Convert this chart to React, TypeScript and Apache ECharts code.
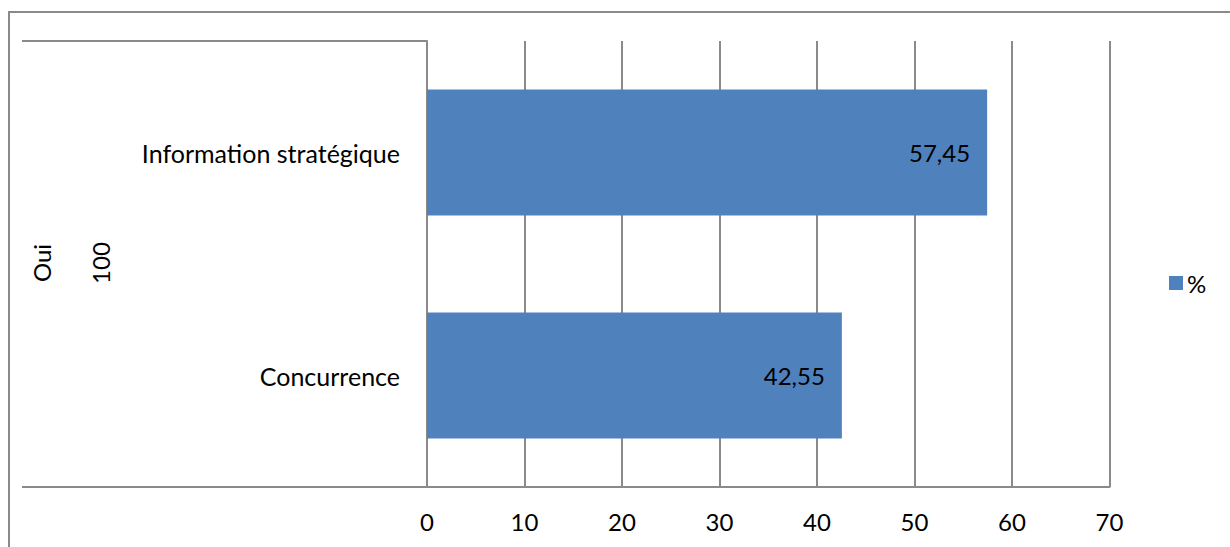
import React, { useEffect, useRef } from "react";
import * as echarts from "echarts";

const categories = ["Concurrence", "Information stratégique"];
const values = [42.55, 57.45];
const valueLabels = ["42,55", "57,45"];
const seriesName = "%";
const outerGroupLabels = ["Oui"];
const midGroupLabels = ["100"];
const xMin = 0;
const xMax = 70;
const xInterval = 10;

const FONT = "Lato";
const GRAY = "#8a8a8a";
const FS = 24;

export default function App() {
  const ref = useRef<HTMLDivElement>(null);
  useEffect(() => {
    if (!ref.current) return;
    const chart = echarts.init(ref.current, null, { renderer: "svg" });
    const gridTop = 41;
    const gridBottomY = 487;
    const midY = (gridTop + gridBottomY) / 2;
    chart.setOption({
      animation: false,
      textStyle: { fontFamily: FONT },
      grid: { left: 427, right: 120.5, top: gridTop, bottom: 547 - gridBottomY },
      legend: {
        show: true,
        left: 1164,
        top: 266,
        icon: "rect",
        itemWidth: 14,
        itemHeight: 14,
        itemGap: 5,
        textStyle: { fontSize: FS, color: "#000", fontFamily: FONT, padding: [0, 0, 0, -1] },
        data: [seriesName],
      },
      xAxis: {
        type: "value",
        min: xMin,
        max: xMax,
        interval: xInterval,
        axisLine: { show: true, lineStyle: { color: GRAY, width: 2 } },
        axisTick: { show: false },
        splitLine: { show: true, lineStyle: { color: GRAY, width: 2 } },
        axisLabel: { fontSize: FS, color: "#000", margin: 22, fontFamily: FONT },
      },
      yAxis: {
        type: "category",
        data: categories,
        axisLine: { show: true, lineStyle: { color: GRAY, width: 2 } },
        axisTick: { show: false },
        axisLabel: { fontSize: 25, color: "#000", margin: 27, fontFamily: FONT },
      },
      series: [
        {
          name: seriesName,
          type: "bar",
          data: values,
          barWidth: "56.5%",
          itemStyle: { color: "#4f81bd" },
          label: {
            show: true,
            position: "insideRight",
            distance: 17,
            fontSize: FS,
            color: "#000",
            fontFamily: FONT,
            formatter: (p: any) => valueLabels[p.dataIndex],
          },
        },
      ],
      graphic: [
        {
          type: "rect",
          shape: { x: 9, y: 12, width: 1240, height: 560 },
          style: { fill: "none", stroke: GRAY, lineWidth: 2 },
        },
        {
          type: "line",
          shape: { x1: 22, y1: gridTop, x2: 427, y2: gridTop },
          style: { stroke: GRAY, lineWidth: 2 },
        },
        {
          type: "line",
          shape: { x1: 22, y1: gridBottomY, x2: 427, y2: gridBottomY },
          style: { stroke: GRAY, lineWidth: 2 },
        },
        {
          type: "text",
          x: 41,
          y: midY - 1,
          rotation: Math.PI / 2,
          style: {
            text: outerGroupLabels[0],
            fontSize: FS,
            fontFamily: FONT,
            fill: "#000",
            align: "center",
            verticalAlign: "middle",
          },
        },
        {
          type: "text",
          x: 100,
          y: midY - 1,
          rotation: Math.PI / 2,
          style: {
            text: midGroupLabels[0],
            fontSize: FS,
            fontFamily: FONT,
            fill: "#000",
            align: "center",
            verticalAlign: "middle",
          },
        },
      ],
    });
    return () => chart.dispose();
  }, []);
  return (
    <div
      ref={ref}
      style={{ position: "absolute", left: 0, top: 0, width: 1230, height: 547, background: "#fff" }}
    />
  );
}
